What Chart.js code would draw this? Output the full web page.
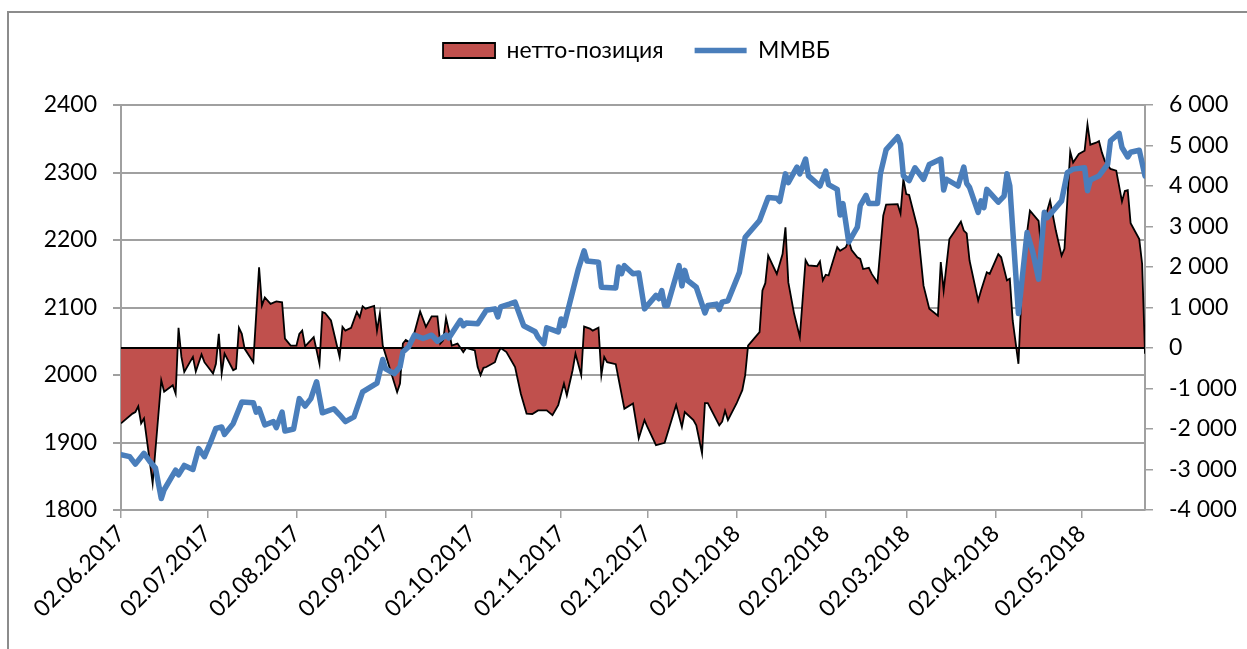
<!DOCTYPE html>
<html>
<head>
<meta charset="utf-8">
<script src="https://cdn.jsdelivr.net/npm/chart.js@4.4.1/dist/chart.umd.min.js"></script>
<style>
  body { margin: 0; background: #fff; overflow: hidden; }
  #wrap { position: relative; width: 1247px; height: 649px; }
  #frame { position: absolute; left: 7px; top: 11px; width: 1300px; height: 700px;
           border-left: 2px solid #8c8c8c; border-top: 2px solid #8c8c8c; }
  canvas { position: absolute; left: 0; top: 0; }
</style>
</head>
<body>
<div id="wrap">
  <div id="frame"></div>
  <canvas id="chart" width="1247" height="649"></canvas>
</div>
<script>
// дни от 02.06.2017
var tickLabels = ['02.06.2017', '02.07.2017', '02.08.2017', '02.09.2017', '02.10.2017', '02.11.2017',
                  '02.12.2017', '02.01.2018', '02.02.2018', '02.03.2018', '02.04.2018', '02.05.2018'];
var lastDay = 356;

// нетто-позиция (правая ось)
var netDays = [0, 4, 5, 6, 7, 8, 11, 14, 15, 18, 19, 20, 21, 22, 25, 26, 28, 29, 32, 33, 34, 35, 36, 39, 40, 41, 42, 43, 46, 48,
  49, 50, 52, 54, 56, 57, 59, 61, 62, 63, 64, 67, 68, 69, 70, 71, 73, 76, 77, 78, 80, 82, 83, 84, 85, 88, 89, 90, 91, 96,
  97, 98, 99, 101, 104, 106, 108, 110, 111, 112, 113, 114, 115, 117, 119, 120, 123, 124, 125, 126, 127, 130, 131, 132, 134, 137, 139, 141, 143, 145,
  148, 150, 152, 154, 155, 157, 158, 160, 161, 163, 164, 166, 167, 168, 169, 172, 175, 178, 180, 182, 183, 186, 189, 193, 195, 196, 199, 200, 202, 203,
  204, 208, 209, 210, 211, 214, 216, 217, 218, 222, 223, 224, 225, 228, 230, 231, 232, 234, 236, 238, 239, 242, 243, 244, 245, 246, 249, 250, 252, 253,
  254, 256, 257, 258, 260, 261, 263, 265, 266, 270, 271, 272, 273, 274, 277, 279, 281, 284, 285, 286, 288, 290, 292, 293, 294, 295, 298, 299, 301, 302,
  305, 306, 308, 309, 310, 312, 313, 314, 316, 319, 320, 321, 323, 325, 327, 328, 330, 331, 333, 335, 336, 337, 339, 340, 341, 342, 344, 346, 348, 349,
  350, 351, 354, 355, 356];
var netValues = [-1860, -1620, -1580, -1440, -1860, -1740, -3340, -800, -1080, -920, -1130, 500, -220, -590, -220, -580, -160, -350, -630, -390, 350, -630, -140, -550, -510, 500, 350, -20, -350, 1990,
  1050, 1250, 1090, 1150, 1130, 230, 60, 60, 350, 430, 40, 270, -60, -390, 890, 860, 680, -220, 520, 430, 500, 890, 760, 1030, 970, 1040, 430, 850, 60, -1090,
  -880, 110, 200, 110, 900, 520, 780, 780, 110, 190, 740, 430, 60, 110, -100, 0, -60, -470, -670, -490, -470, -350, -140, 0, -100, -470, -1130, -1620, -1630, -1540,
  -1540, -1660, -1410, -880, -1170, -550, -140, -670, 530, 480, 430, 500, -670, -220, -350, -400, -1500, -1370, -2230, -1780, -1950, -2400, -2340, -1410, -1950, -1580, -1780, -1910, -2600, -1360,
  -1360, -1910, -1820, -1550, -1780, -1370, -1040, -670, 60, 390, 1420, 1600, 2280, 1830, 2320, 2980, 1620, 850, 270, 2170, 2040, 2020, 2140, 1670, 1810, 1790, 2490, 2400, 2490, 2650,
  2420, 2240, 2200, 1950, 1980, 1830, 1620, 3270, 3540, 3550, 3320, 4170, 3800, 3780, 2940, 1540, 970, 800, 2120, 1420, 2690, 2900, 3120, 2900, 2830, 2160, 1170, 1420, 1870, 1830,
  2320, 2240, 1670, 1710, 680, -390, 1250, 2320, 3390, 3140, 2400, 3140, 3640, 2900, 2280, 2450, 4850, 4580, 4790, 4870, 5520, 5020, 5070, 5110, 4830, 4620, 4420, 4380, 3620, 3880,
  3900, 3080, 2690, 2080, -140];

// ММВБ (левая ось)
var mmvbDays = [0, 3, 5, 8, 10, 12, 14, 15, 19, 20, 22, 25, 27, 29, 31, 33, 35, 36, 39, 42, 46, 47, 48, 50, 53, 54, 56, 57, 60, 62,
  64, 66, 68, 70, 74, 76, 78, 81, 84, 89, 91, 92, 95, 97, 98, 100, 102, 105, 108, 110, 113, 114, 118, 119, 120, 124, 127, 130, 131, 132,
  135, 137, 138, 140, 144, 145, 147, 148, 152, 153, 154, 159, 161, 162, 166, 167, 172, 173, 174, 175, 178, 180, 182, 184, 186, 187, 188, 189, 190, 194,
  195, 196, 197, 200, 203, 204, 207, 208, 209, 211, 215, 217, 222, 225, 228, 229, 231, 232, 235, 236, 238, 239, 243, 245, 246, 249, 250, 251, 253, 256,
  257, 259, 260, 263, 264, 266, 270, 271, 272, 274, 276, 279, 281, 285, 286, 287, 291, 293, 294, 295, 298, 299, 300, 301, 305, 307, 308, 309, 312, 315,
  317, 319, 321, 322, 327, 329, 331, 335, 336, 337, 340, 343, 344, 347, 348, 350, 351, 354, 356];
var mmvbValues = [1882, 1879, 1868, 1884, 1872, 1862, 1817, 1830, 1859, 1852, 1866, 1860, 1891, 1879, 1899, 1921, 1923, 1912, 1928, 1960, 1959, 1945, 1950, 1926, 1931, 1922, 1945, 1917, 1920, 1965,
  1954, 1965, 1990, 1944, 1950, 1941, 1931, 1938, 1975, 1988, 2023, 2009, 2002, 2012, 2034, 2042, 2059, 2054, 2059, 2050, 2059, 2055, 2081, 2073, 2077, 2076, 2096, 2098, 2086, 2101,
  2105, 2108, 2096, 2073, 2064, 2056, 2046, 2070, 2064, 2083, 2073, 2157, 2184, 2169, 2167, 2130, 2129, 2160, 2150, 2162, 2150, 2151, 2098, 2108, 2118, 2113, 2125, 2103, 2103, 2162,
  2132, 2155, 2140, 2130, 2092, 2103, 2105, 2097, 2108, 2110, 2152, 2204, 2229, 2263, 2262, 2257, 2298, 2285, 2308, 2298, 2320, 2295, 2280, 2302, 2282, 2275, 2237, 2254, 2197, 2219,
  2251, 2266, 2254, 2254, 2298, 2334, 2353, 2342, 2295, 2288, 2307, 2290, 2312, 2320, 2274, 2290, 2280, 2308, 2284, 2278, 2241, 2258, 2248, 2275, 2256, 2265, 2298, 2280, 2091, 2211,
  2182, 2142, 2241, 2233, 2258, 2300, 2305, 2307, 2273, 2289, 2295, 2312, 2347, 2358, 2337, 2323, 2330, 2333, 2295];

function toPoints(xs, ys) {
  return xs.map(function (x, i) { return { x: x, y: ys[i] }; });
}

// позиции подписей оси X: число дней от первой даты
function dayOf(label) {
  var p = label.split('.');
  var d = Date.UTC(+p[2], +p[1] - 1, +p[0]);
  var p0 = tickLabels[0].split('.');
  var d0 = Date.UTC(+p0[2], +p0[1] - 1, +p0[0]);
  return Math.round((d - d0) / 86400000);
}
var tickDays = tickLabels.map(dayOf);

function fmtThousands(v) {
  var s = String(Math.abs(v)).replace(/\B(?=(\d{3})+(?!\d))/g, ' ');
  return (v < 0 ? '-' : '') + s;
}

var gridColor = '#a0a0a0';
var font = { family: 'Lato, "Open Sans", sans-serif', size: 23 };

var zeroLine = {
  id: 'zeroLine',
  afterDatasetDraw: function (chart, args) {
    if (args.index !== 0) return;
    var y = chart.scales.y1.getPixelForValue(0);
    var ctx = chart.ctx;
    ctx.save();
    ctx.strokeStyle = '#000';
    ctx.lineWidth = 2;
    ctx.beginPath();
    ctx.moveTo(chart.chartArea.left, y);
    ctx.lineTo(chart.chartArea.right, y);
    ctx.stroke();
    ctx.restore();
  }
};

// лишнее место под легендой и небольшой сдвиг вправо
var legendGap = {
  id: 'legendGap',
  beforeLayout: function (chart) {
    var lg = chart.legend;
    if (!lg || lg._gapPatched) return;
    var fit = lg.fit;
    lg.fit = function () { fit.call(this); this.height += 33; };
    var draw = lg.draw;
    lg.draw = function () {
      this.ctx.save();
      this.ctx.translate(13, 0);
      draw.call(this);
      this.ctx.restore();
    };
    lg._gapPatched = true;
  }
};

var ctx = document.getElementById('chart').getContext('2d');
var myChart = new Chart(ctx, {
  type: 'line',
  data: {
    datasets: [{
      label: 'нетто-позиция',
      data: toPoints(netDays, netValues),
      yAxisID: 'y1',
      backgroundColor: '#c0504d',
      borderColor: '#000000',
      borderWidth: 1.8,
      fill: 'origin',
      pointRadius: 0,
      tension: 0,
      order: 2,
      pointStyle: 'rect'
    }, {
      label: 'ММВБ',
      data: toPoints(mmvbDays, mmvbValues),
      yAxisID: 'y',
      borderColor: '#4a7ebb',
      backgroundColor: '#4a7ebb',
      borderWidth: 5.5,
      borderJoinStyle: 'round',
      borderCapStyle: 'round',
      fill: false,
      pointRadius: 0,
      tension: 0,
      order: 1,
      pointStyle: 'line'
    }]
  },
  options: {
    responsive: false,
    animation: false,
    layout: { padding: { top: 8, left: 0, right: 0, bottom: 0 } },
    plugins: {
      legend: {
        position: 'top',
        labels: {
          usePointStyle: true,
          pointStyleWidth: 52,
          boxHeight: 15,
          padding: 31,
          color: '#000',
          font: font,
          sort: function (a, b) { return a.datasetIndex - b.datasetIndex; }
        }
      },
      tooltip: { enabled: false }
    },
    scales: {
      x: {
        type: 'linear',
        min: 0,
        max: lastDay,
        afterBuildTicks: function (scale) {
          scale.ticks = tickDays.map(function (d) { return { value: d }; });
        },
        afterFit: function (scale) { scale.height = 139; },
        ticks: {
          autoSkip: false,
          minRotation: 45,
          maxRotation: 45,
          padding: 2,
          color: '#000',
          font: font,
          callback: function (v) {
            var i = tickDays.indexOf(v);
            return i >= 0 ? tickLabels[i] : '';
          }
        },
        grid: { drawOnChartArea: false, drawTicks: true, tickLength: 8, color: gridColor, lineWidth: 1.5 },
        border: { display: true, color: gridColor, width: 2 }
      },
      y: {
        position: 'left',
        min: 1800,
        max: 2400,
        afterFit: function (scale) { scale.width = 121; },
        ticks: { stepSize: 100, padding: 16, color: '#000', font: font, callback: function (v) { return String(v); } },
        grid: { color: gridColor, lineWidth: 2, tickLength: 8 },
        border: { display: true, color: gridColor, width: 2 }
      },
      y1: {
        position: 'right',
        min: -4000,
        max: 6000,
        afterFit: function (scale) { scale.width = 102; },
        ticks: { stepSize: 1000, padding: 16, color: '#000', font: font, callback: fmtThousands },
        grid: { drawOnChartArea: false, tickLength: 8, color: gridColor, lineWidth: 1.5 },
        border: { display: true, color: gridColor, width: 2 }
      }
    }
  },
  plugins: [zeroLine, legendGap]
});
</script>
</body>
</html>
